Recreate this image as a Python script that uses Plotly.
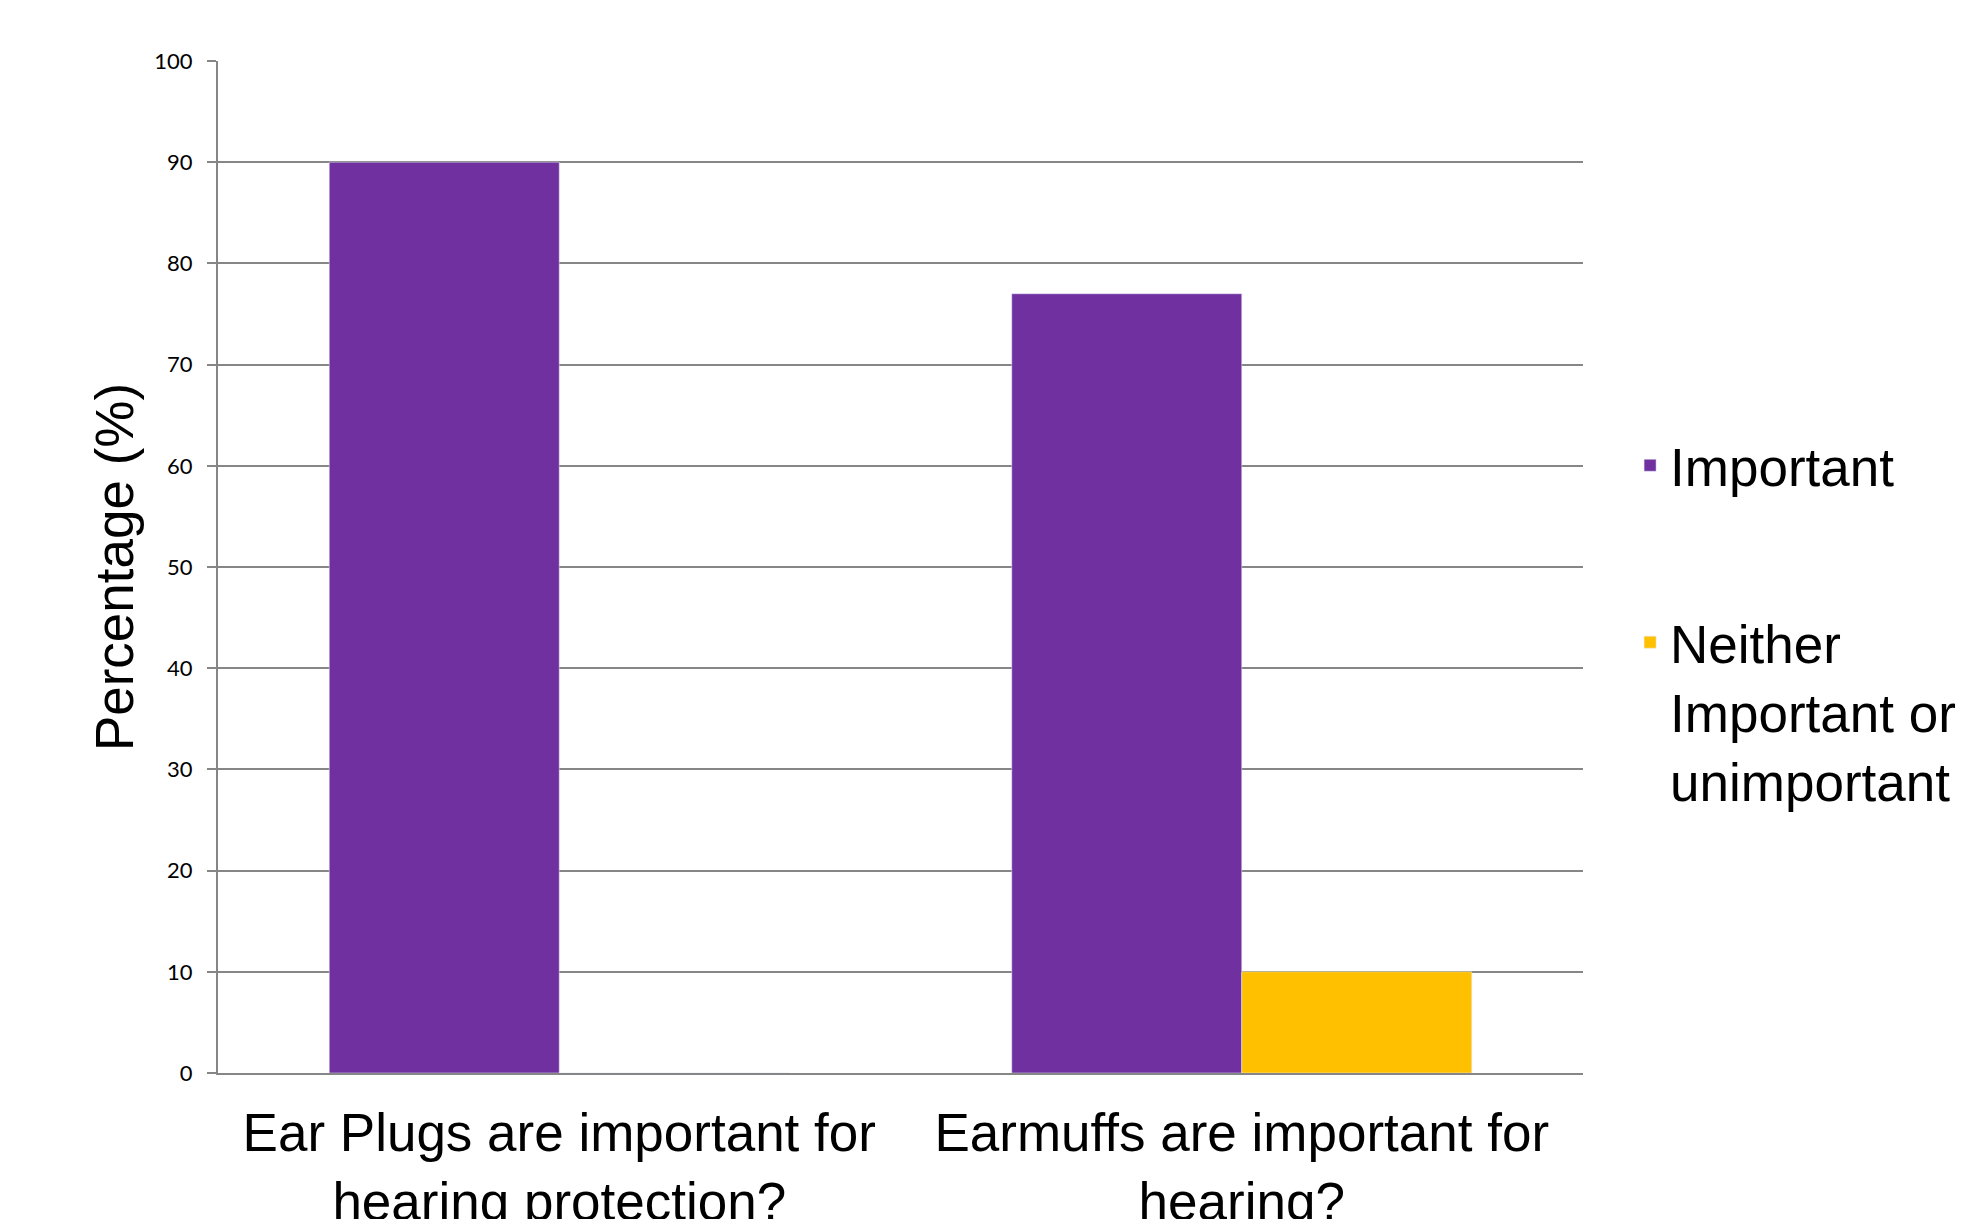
import plotly.graph_objects as go

categories = ["Ear Plugs are important for<br>hearing protection?",
              "Earmuffs are important for<br>hearing?"]
important = [90, 77]
neither = [0, 10]
series_names = ["Important", "Neither<br>Important or<br>unimportant"]
y_ticks = [0, 10, 20, 30, 40, 50, 60, 70, 80, 90, 100]
colors = ["#7030A0", "#FFC000"]

fig = go.Figure()
fig.add_trace(go.Bar(x=categories, y=important, name=series_names[0],
                     marker=dict(color=colors[0]), legendgroup="a"))
fig.add_trace(go.Bar(x=categories, y=neither, name=series_names[1],
                     marker=dict(color=colors[1]), legendgroup="b"))

fig.update_layout(
    width=1963, height=1219,
    margin=dict(l=218, r=380, t=61, b=146, autoexpand=False),
    paper_bgcolor="white", plot_bgcolor="white",
    barmode="group", bargap=0.326, bargroupgap=0,
    font=dict(family="Liberation Sans, Arial", color="black"),
    legend=dict(x=1.0345, xanchor="left", y=0.641, yanchor="top",
                font=dict(size=53, family="Liberation Sans, Arial"),
                valign="top", tracegroupgap=105, traceorder="grouped",
                itemwidth=30, bgcolor="rgba(0,0,0,0)"),
    xaxis=dict(showgrid=False, showline=True, linecolor="#868686", linewidth=2,
               ticks="", tickfont=dict(size=53, family="Liberation Sans, Arial"),
               ticklabelstandoff=12),
    yaxis=dict(range=[0, 100], tickvals=y_ticks, showgrid=True, gridcolor="#868686",
               gridwidth=2, showline=True, linecolor="#868686", linewidth=2,
               ticks="outside", ticklen=9, tickcolor="#868686", tickwidth=2,
               tickfont=dict(size=22, family="Lato, Carlito, sans-serif"),
               ticklabelstandoff=10, zeroline=False,
               title=dict(text="Percentage (%)", standoff=4,
                          font=dict(size=53, family="Liberation Sans, Arial"))),
)
fig.write_html("out.html")
